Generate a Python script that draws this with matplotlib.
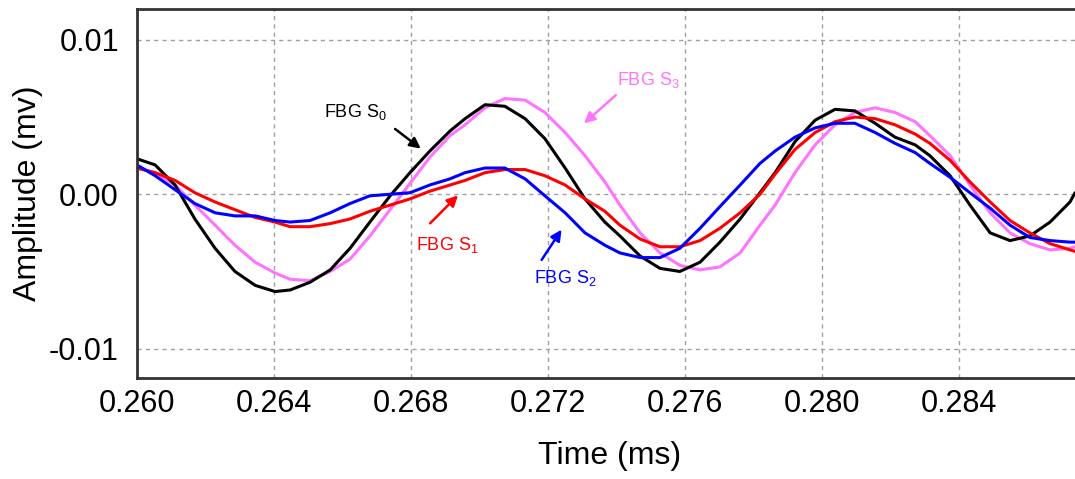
import matplotlib
matplotlib.use('Agg')
import matplotlib.pyplot as plt

plt.rcParams['font.family'] = ['Liberation Sans', 'DejaVu Sans']
plt.rcParams['mathtext.fontset'] = 'custom'
plt.rcParams['mathtext.rm'] = 'Liberation Sans'

# ============================
# Data
# ============================

time_ms = [0.26000, 0.26053, 0.26111, 0.26169, 0.26228, 0.26286, 0.26345, 0.26403,
           0.26447, 0.26505, 0.26564, 0.26622, 0.26680, 0.26739, 0.26797, 0.26855,
           0.26914, 0.26958, 0.27016, 0.27074, 0.27133, 0.27191, 0.27250, 0.27308,
           0.27366, 0.27410, 0.27469, 0.27527, 0.27585, 0.27644, 0.27702, 0.27761,
           0.27819, 0.27863, 0.27921, 0.27980, 0.28038, 0.28096, 0.28155, 0.28213,
           0.28272, 0.28315, 0.28374, 0.28432, 0.28491, 0.28549, 0.28607, 0.28666,
           0.28724, 0.28739]

fbg_s0 = [0.0023, 0.0019, 0.0006, -0.0016, -0.0035, -0.0050, -0.0059, -0.0063,
          -0.0062, -0.0057, -0.0049, -0.0035, -0.0018, -0.0001, 0.0014, 0.0028,
          0.0041, 0.0049, 0.0058, 0.0057, 0.0049, 0.0036, 0.0017, -0.0003,
          -0.0018, -0.0027, -0.0040, -0.0048, -0.0050, -0.0044, -0.0031, -0.0016,
          0.0001, 0.0014, 0.0034, 0.0048, 0.0055, 0.0054, 0.0046, 0.0037,
          0.0032, 0.0025, 0.0012, -0.0007, -0.0025, -0.0030, -0.0027, -0.0018,
          -0.0005, 0.0001]

fbg_s1 = [0.0017, 0.0014, 0.0009, 0.0001, -0.0005, -0.0010, -0.0015, -0.0018,
          -0.0021, -0.0021, -0.0019, -0.0016, -0.0011, -0.0007, -0.0003, 0.0002,
          0.0006, 0.0009, 0.0014, 0.0016, 0.0016, 0.0012, 0.0006, -0.0003,
          -0.0011, -0.0020, -0.0029, -0.0034, -0.0034, -0.0030, -0.0022, -0.0012,
          0.0000, 0.0013, 0.0029, 0.0040, 0.0047, 0.0050, 0.0049, 0.0045,
          0.0039, 0.0033, 0.0022, 0.0008, -0.0005, -0.0017, -0.0025, -0.0032,
          -0.0036, -0.0037]

fbg_s2 = [0.0019, 0.0012, 0.0003, -0.0006, -0.0012, -0.0014, -0.0014, -0.0017,
          -0.0018, -0.0017, -0.0012, -0.0006, -0.0001, 0.0000, 0.0001, 0.0006,
          0.0010, 0.0014, 0.0017, 0.0017, 0.0010, -0.0001, -0.0012, -0.0025,
          -0.0033, -0.0038, -0.0041, -0.0041, -0.0035, -0.0022, -0.0008, 0.0006,
          0.0020, 0.0028, 0.0037, 0.0043, 0.0046, 0.0046, 0.0040, 0.0033,
          0.0027, 0.0020, 0.0011, 0.0001, -0.0009, -0.0020, -0.0028, -0.0030,
          -0.0031, -0.0031]

fbg_s3 = [0.0017, 0.0014, 0.0006, -0.0007, -0.0020, -0.0033, -0.0044, -0.0051,
          -0.0055, -0.0056, -0.0050, -0.0042, -0.0027, -0.0010, 0.0007, 0.0024,
          0.0038, 0.0045, 0.0056, 0.0062, 0.0061, 0.0053, 0.0040, 0.0025,
          0.0008, -0.0007, -0.0025, -0.0038, -0.0046, -0.0049, -0.0047, -0.0038,
          -0.0020, -0.0007, 0.0014, 0.0032, 0.0045, 0.0053, 0.0056, 0.0053,
          0.0047, 0.0038, 0.0025, 0.0006, -0.0012, -0.0025, -0.0032, -0.0036,
          -0.0035, -0.0034]

x_ticks = [0.260, 0.264, 0.268, 0.272, 0.276, 0.280, 0.284]
x_tick_labels = ['0.260', '0.264', '0.268', '0.272', '0.276', '0.280', '0.284']
y_ticks = [-0.01, 0.0, 0.01]
y_tick_labels = ['-0.01', '0.00', '0.01']

# ============================
# Plot
# ============================

fig = plt.figure(figsize=(10.75, 4.79), dpi=100)
ax = fig.add_axes([137 / 1075, 101 / 479, 938 / 1075, 369 / 479])

line_kw = dict(lw=2.2, solid_joinstyle='round', solid_capstyle='round')
ax.plot(time_ms, fbg_s3, color='#ff73ff', **line_kw)
ax.plot(time_ms, fbg_s0, color='black', **line_kw)
ax.plot(time_ms, fbg_s1, color='#ff0000', **line_kw)
ax.plot(time_ms, fbg_s2, color='#0000ff', **line_kw)

ax.set_xlim(0.260, 0.287387)
ax.set_ylim(-0.0119, 0.0120)
ax.set_xticks(x_ticks)
ax.set_xticklabels(x_tick_labels)
ax.set_yticks(y_ticks)
ax.set_yticklabels(y_tick_labels)
ax.tick_params(axis='both', length=0, labelsize=22)
ax.tick_params(axis='x', pad=8)
ax.tick_params(axis='y', pad=13)

ax.grid(True, color='#a0a0a0', linestyle=(0, (3, 3)), linewidth=1.0)

for side in ['left', 'top', 'bottom']:
    ax.spines[side].set_linewidth(2.0)
    ax.spines[side].set_color('#333333')
ax.spines['right'].set_visible(False)

ax.set_xlabel('Time (ms)', fontsize=23)
ax.set_ylabel('Amplitude (mv)', fontsize=23)
ax.xaxis.set_label_coords(0.504, -0.171)
ax.yaxis.set_label_coords(-0.100, 0.5)

# Annotations
arrow_kw = dict(arrowstyle='-|>', lw=1.8, mutation_scale=16)

ax.text(0.26639, 0.00531, 'FBG S$_\\mathregular{0}$', color='black', fontsize=13,
        ha='center', va='center')
ax.annotate('', xy=(0.26835, 0.00285), xytext=(0.26747, 0.00434),
            arrowprops=dict(color='black', **arrow_kw))

ax.text(0.26905, -0.00330, 'FBG S$_\\mathregular{1}$', color='#ff0000', fontsize=13,
        ha='center', va='center')
ax.annotate('', xy=(0.26943, 0.00006), xytext=(0.26850, -0.00201),
            arrowprops=dict(color='#ff0000', **arrow_kw))

ax.text(0.27250, -0.00544, 'FBG S$_\\mathregular{2}$', color='#0000ff', fontsize=13,
        ha='center', va='center')
ax.annotate('', xy=(0.27244, -0.00214), xytext=(0.27177, -0.00440),
            arrowprops=dict(color='#0000ff', **arrow_kw))

ax.text(0.27492, 0.00738, 'FBG S$_\\mathregular{3}$', color='#ff73ff', fontsize=13,
        ha='center', va='center')
ax.annotate('', xy=(0.27299, 0.00447), xytext=(0.27404, 0.00654),
            arrowprops=dict(color='#ff73ff', **arrow_kw))

fig.savefig('out.png', dpi=100)
